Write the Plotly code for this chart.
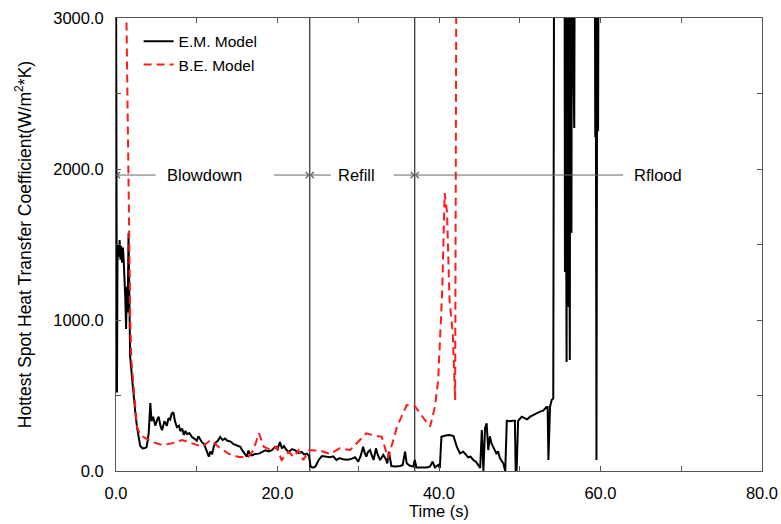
import plotly.graph_objects as go

# E.M. Model (solid black) - time in s, heat transfer coefficient in W/m2*K
em_time = [0.0, 0.12, 0.18, 0.25, 0.35, 0.45, 0.55, 0.65, 0.75, 0.85, 0.95, 1.05, 1.15, 1.25, 1.35, 1.45,
           1.55, 1.62, 1.75, 1.98, 2.2, 2.4, 2.6, 2.8, 3.0, 3.3, 3.6, 3.8, 4.05, 4.25, 4.4, 4.6, 4.87, 5.1,
           5.28, 5.5, 5.7, 6.0, 6.3, 6.5, 6.7, 6.9, 7.1, 7.3, 7.55, 7.8, 7.96, 8.2, 8.4, 8.6, 8.8, 9.1,
           9.4, 9.7, 10.0, 10.2, 10.4, 10.65, 10.9, 11.1, 11.3, 11.5, 11.7, 11.9, 12.1, 12.3, 12.6, 12.9,
           13.2, 13.5, 13.8, 14.2, 14.5, 14.8, 15.1, 15.4, 15.6, 15.8, 16.0, 16.2, 16.4, 16.6, 16.85, 17.2,
           17.7, 18.1, 18.5, 18.9, 19.3, 19.7, 20.0, 20.3, 20.55, 20.8, 21.1, 21.4, 21.8, 22.2, 22.6, 23.0,
           23.3, 23.65, 23.9, 24.1, 24.4, 24.7, 25.1, 25.5, 26.0, 26.5, 26.9, 27.3, 27.7, 28.1, 28.6, 29.0,
           29.6, 30.0, 30.3, 30.6, 30.8, 31.0, 31.2, 31.45, 31.7, 31.9, 32.2, 32.4, 32.7, 33.1, 33.4, 33.6,
           33.8, 34.1, 34.6, 35.2, 35.5, 35.8, 36.0, 36.4, 36.8, 37.0, 37.2, 37.8, 38.5, 38.9, 39.2, 39.5,
           39.9, 40.1, 40.3, 40.8, 41.3, 41.8, 42.0, 42.2, 42.6, 43.0, 43.3, 43.6, 43.9, 44.25, 44.6, 45.1,
           45.3, 45.5, 45.7, 45.9, 46.1, 46.3, 46.5, 46.8, 47.1, 47.3, 47.55, 47.96, 48.2, 48.4, 48.8, 49.1,
           49.4, 49.5, 49.6, 49.8, 50.25, 50.6, 50.9, 51.3, 51.7, 52.1, 52.5, 52.9, 53.3, 53.45, 53.55,
           53.75, 53.95, 54.15, 54.25, 55.55, 55.6, 55.65, 55.8, 55.85, 56.0, 56.05, 56.2, 56.25, 56.4,
           56.45, 56.75, 56.8, 59.3, 59.35, 59.4, 59.5, 59.6, 59.7, 59.75]
em_htc = [3400, 520, 1380, 1500, 1420, 1530, 1400, 1490, 1380, 1480, 1400, 1300, 1150, 940, 1220, 1050,
          1576, 1300, 760, 620, 470, 384, 293, 220, 165, 150, 152, 160, 250, 450, 330, 360, 300, 340,
          360, 300, 270, 330, 300, 350, 340, 380, 390, 330, 290, 300, 265, 280, 240, 265, 245, 250,
          225, 215, 200, 230, 210, 190, 180, 150, 125, 95, 130, 110, 160, 185, 200, 225,
          205, 215, 200, 195, 180, 172, 168, 160, 140, 125, 110, 95, 135, 110, 104, 112,
          115, 125, 137, 130, 138, 160, 145, 192, 150, 165, 140, 126, 145, 137, 118, 126,
          110, 115, 100, 29, 22, 30, 73, 99, 95, 91, 97, 73, 85, 77, 75, 77,
          91, 62, 100, 161, 120, 95, 125, 139, 100, 73, 150, 110, 73, 106, 80, 51,
          128, 33, 30, 33, 40, 128, 51, 35, 29, 73, 24, 25, 24, 30, 62, 24,
          40, 20, 227, 235, 238, 231, 200, 161, 117, 128, 110, 91, 95, 73, 60, 20,
          272, 0, 283, 316, 139, 230, 183, 150, 117, 130, 84, 51, 0, 333, 330, 333,
          333, -20, -20, 333, 360, 350, 342, 360, 371, 384, 393, 400, 424, 424, 73,
          424, 470, 480, 3400, 3400, 1318, 3400, 722, 3400, 1086, 3400, 735, 3400, 1576,
          3400, 2271, 3400, 3400, 2212, 3400, 73, 3400, 2250, 3400]

# B.E. Model (dashed red)
be_time = [1.2, 1.57, 1.77, 1.9, 2.2, 2.6, 3.0, 3.6, 4.4, 5.7, 6.9, 8.2, 9.4, 10.7, 11.7, 12.7, 13.9,
           15.2, 16.4, 17.0, 17.7, 18.3, 19.3, 19.9, 20.5, 21.4, 22.0, 22.6, 23.2, 23.9, 25.3, 26.5,
           27.7, 29.0, 30.0, 31.0, 32.3, 32.9, 33.7, 34.8, 36.0, 37.0, 38.1, 38.9, 39.5, 39.9, 40.4,
           40.7, 41.0, 41.3, 41.7, 42.0, 42.15]
be_htc = [3400, 1662, 1000, 735, 517, 293, 238, 218, 194, 172, 183, 205, 183, 161, 205, 161, 115,
          93, 93, 137, 250, 161, 137, 161, 73, 126, 93, 137, 73, 137, 135, 113,
          150, 139, 194, 249, 231, 227, 84, 294, 437, 431, 349, 294, 426, 603, 1199,
          1841, 1709, 1133, 914, 470, 3400]

# phases
phase_bounds = [24, 37]
phase_labels = ["Blowdown", "Refill", "Rflood"]
label_time = [11.0, 29.8, 67.1]
arrow_level = 1960
arrow_tails = [5.1, 19.4, 26.8, 34.2, 63.0]
arrow_heads = [0, 24, 24, 37, 37]

FONT = "Liberation Sans, Arial, sans-serif"

fig = go.Figure()

fig.add_trace(go.Scatter(
    x=em_time, y=em_htc, mode="lines", name="E.M. Model",
    line=dict(color="black", width=2)
))
fig.add_trace(go.Scatter(
    x=be_time, y=be_htc, mode="lines", name="B.E. Model",
    line=dict(color="#ff1a1a", width=2, dash="8px,5px")
))

for b in phase_bounds:
    fig.add_shape(type="line", x0=b, x1=b, xref="x", y0=0, y1=1, yref="paper",
                  line=dict(color="black", width=1), layer="below")

# phase arrows along the horizontal line
for tail, head in zip(arrow_tails, arrow_heads):
    fig.add_annotation(x=head, y=arrow_level, ax=tail, ay=arrow_level, axref="x", ayref="y",
                       text="", showarrow=True, arrowhead=4, arrowsize=1.2, arrowwidth=1,
                       arrowcolor="#666666")

for lab, t in zip(phase_labels, label_time):
    fig.add_annotation(x=t, y=arrow_level, text=lab, showarrow=False,
                       font=dict(family=FONT, size=16.5, color="black"))

axis_style = dict(showline=True, linecolor="#555555", linewidth=1, mirror="ticks",
                  ticks="inside", ticklen=5, tickcolor="#555555", showgrid=False, zeroline=False,
                  automargin=False, tickformat=".1f",
                  tickfont=dict(family=FONT, size=16.5, color="black"))

fig.update_xaxes(range=[0, 80], dtick=20, ticklabelstandoff=7,
                 title=dict(text="Time (s)", standoff=0,
                            font=dict(family=FONT, size=16.5, color="black")),
                 minor=dict(dtick=10, ticks="inside", ticklen=5, tickcolor="#555555"),
                 **axis_style)
fig.update_yaxes(range=[0, 3000], dtick=1000, ticklabelstandoff=8,
                 title=dict(text="Hottest Spot Heat Transfer Coefficient(W/m<sup>2</sup>*K)", standoff=17,
                            font=dict(family=FONT, size=17.5, color="black")),
                 minor=dict(dtick=500, ticks="inside", ticklen=5, tickcolor="#555555"),
                 **axis_style)

fig.update_layout(
    width=781, height=524,
    margin=dict(l=116, r=19, t=18, b=53),
    plot_bgcolor="white", paper_bgcolor="white",
    font=dict(family=FONT, color="black"),
    legend=dict(x=0.035, y=0.985, xanchor="left", yanchor="top", bgcolor="rgba(0,0,0,0)",
                font=dict(family=FONT, size=15.5), tracegroupgap=0),
)

# page body has a default 8px margin; drop it so the figure fills the window
fig.write_html("out.html", config={"displayModeBar": False},
               post_script="document.body.style.margin='0';")
